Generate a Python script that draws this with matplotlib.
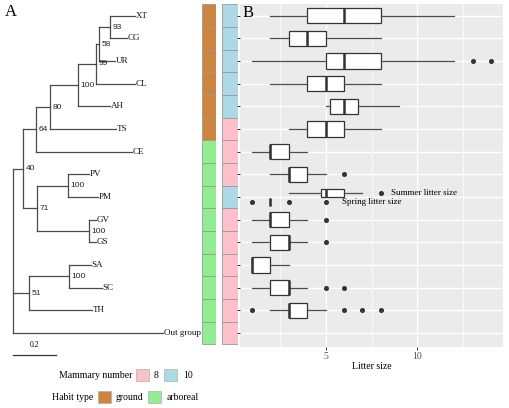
import numpy as np
import matplotlib
matplotlib.use("Agg")
import matplotlib.pyplot as plt
from matplotlib.patches import Rectangle
from matplotlib.collections import LineCollection

# ---------------- data ----------------
newick = ("((((((((XT:0.118,CG:0.079)93:0.052,UR:0.075)58:0.014,CL:0.184)99:0.085,"
          "AH:0.151)100:0.132,TS:0.311)80:0.066,CE:0.453)64:0.061,"
          "((PV:0.099,PM:0.142)100:0.148,(GV:0.033,GS:0.033)100:0.245)71:0.066)40:0.045,"
          "((SA:0.104,SC:0.156)100:0.189,TH:0.297)51:0.073,Out_group:0.705);")

species = ["XT", "CG", "UR", "CL", "AH", "TS", "CE", "PV", "PM", "GV", "GS",
           "SA", "SC", "TH", "Out group"]
habit = ["ground"] * 6 + ["arboreal"] * 9
mammary = [10, 10, 10, 10, 10, 8, 8, 8, 10, 8, 8, 8, 8, 8, 8]

# litter size box statistics (whisker low, Q1, median, Q3, whisker high, outliers)
box_species = ["XT", "CG", "UR", "CL", "AH", "TS", "CE", "PV", "PM", "GV", "GS", "SA", "SC", "TH"]
whislo = [2, 2, 1, 2, 5, 3, 1, 2, 3, 1, 1, 1, 1, 2]
q1 = [4, 3, 5, 4, 5.25, 4, 2, 3, 4.75, 2, 2, 1, 2, 3]
med = [6, 4, 6, 5, 6, 5, 2, 3, 5, 2, 3, 1, 3, 3]
q3 = [8, 5, 8, 6, 6.75, 6, 3, 4, 6, 3, 3, 2, 3, 4]
whishi = [12, 8, 12, 8, 9, 8, 4, 5, 7, 4, 4, 3, 4, 5]
fliers = [[], [], [13, 14], [], [], [], [], [6], [8], [5], [5], [], [5, 6], [1, 6, 7, 8]]
# spring litter size of PM
spring_stats = dict(whislo=2, q1=2, med=2, q3=2, whishi=2, fliers=[1, 3, 5])

habit_colors = {"ground": "#CD853F", "arboreal": "#90EE90"}
mammary_colors = {8: "#FFC0CB", 10: "#ADD8E6"}

# ---------------- helpers ----------------
W, H = 510, 408
fig = plt.figure(figsize=(W / 100, H / 100), dpi=100)
SERIF = "Liberation Serif"
SANS = "Liberation Sans"


def px_axes(x0, y0, x1, y1):
    return fig.add_axes([x0 / W, 1 - y1 / H, (x1 - x0) / W, (y1 - y0) / H])


ROW0, ROWH = 15.7, 22.67
TOP, BOT = 4, 346.5
YLIM = (1 + (BOT - ROW0) / ROWH, 1 + (TOP - ROW0) / ROWH)


def parse(s):
    pos = 0

    def node():
        nonlocal pos
        children = []
        if s[pos] == "(":
            pos += 1
            while True:
                children.append(node())
                if s[pos] == ",":
                    pos += 1
                    continue
                if s[pos] == ")":
                    pos += 1
                    break
        start = pos
        while pos < len(s) and s[pos] not in ":,);":
            pos += 1
        label = s[start:pos]
        bl = 0.0
        if pos < len(s) and s[pos] == ":":
            pos += 1
            start = pos
            while s[pos] not in ",);":
                pos += 1
            bl = float(s[start:pos])
        return {"label": label.replace("_", " "), "bl": bl, "children": children}

    return node()


root = parse(newick)
counter = [0]


def layout(n, x0):
    n["x"] = x0 + n["bl"]
    if not n["children"]:
        counter[0] += 1
        n["y"] = counter[0]
    else:
        for c in n["children"]:
            layout(c, n["x"])
        n["y"] = np.mean([c["y"] for c in n["children"]])


root["bl"] = 0.0
layout(root, 0.0)

# ---------------- tree panel ----------------
axt = px_axes(0, TOP, 201, BOT)
PXU = 212.0
axt.set_xlim(-13.3 / PXU, (201 - 13.3) / PXU)
axt.set_ylim(*YLIM)
axt.axis("off")
segs = []


def draw(n):
    if n["children"]:
        ys = [c["y"] for c in n["children"]]
        segs.append([(n["x"], min(ys)), (n["x"], max(ys))])
        for c in n["children"]:
            segs.append([(n["x"], c["y"]), (c["x"], c["y"])])
            draw(c)
        if n is not root and n["label"]:
            axt.text(n["x"] + 0.012, n["y"], n["label"], family=SANS, fontsize=6,
                     va="center", ha="left", color="#222222")
    else:
        axt.text(n["x"] + 0.004, n["y"], n["label"], family=SERIF, fontsize=6.5,
                 va="center", ha="left", color="#111111", clip_on=False)


draw(root)
axt.add_collection(LineCollection(segs, colors="#4a4a4a", linewidths=0.9,
                                  capstyle="projecting"))
# scale bar
sb_y = 1 + (355 - ROW0) / ROWH
axt.plot([0, 0.2], [sb_y, sb_y], color="#333333", lw=0.9, clip_on=False)
axt.text(0.1, sb_y - 0.28, "0.2", family=SERIF, fontsize=5.5, ha="center", va="bottom",
         clip_on=False)

# ---------------- colour strips ----------------
rows = np.arange(1, len(species) + 1)
axh = px_axes(202, TOP, 216, BOT)
axh.barh(rows, 1, height=1, left=0, color=[habit_colors[h] for h in habit],
         edgecolor="#9a9a9a", linewidth=0.6)
axm = px_axes(222, TOP, 238, BOT)
axm.barh(rows, 1, height=1, left=0, color=[mammary_colors[m] for m in mammary],
         edgecolor="#9a9a9a", linewidth=0.6)
for a in (axh, axm):
    a.set_xlim(0, 1)
    a.set_ylim(*YLIM)
    a.axis("off")

# ---------------- box plot panel ----------------
axb = px_axes(240, TOP, 503, BOT)
axb.set_facecolor("#EBEBEB")
for sp in axb.spines.values():
    sp.set_visible(False)
axb.set_xlim(0.35, 14.65)
axb.set_ylim(*YLIM)
axb.set_xticks([5, 10])
axb.set_xticks([2.5, 7.5, 12.5], minor=True)
axb.set_xticklabels(["5", "10"], family=SERIF, fontsize=7, color="#4D4D4D")
axb.set_yticks(rows)
axb.set_yticklabels([])
axb.tick_params(axis="both", which="major", length=2.5, width=0.7, color="#333333", pad=1.5)
axb.tick_params(axis="x", which="minor", length=0)
axb.grid(True, which="major", color="white", lw=1.0)
axb.grid(True, which="minor", axis="x", color="white", lw=0.5)
axb.set_axisbelow(True)
axb.set_xlabel("Litter size", family=SERIF, fontsize=7, labelpad=1)

stats, pos, widths = [], [], []
for i, sname in enumerate(box_species):
    r = species.index(sname) + 1
    st = dict(whislo=whislo[i], q1=q1[i], med=med[i], q3=q3[i], whishi=whishi[i],
              fliers=fliers[i])
    if sname == "PM":
        stats.append(st); pos.append(r - 0.18); widths.append(0.35)
        stats.append(dict(spring_stats)); pos.append(r + 0.21); widths.append(0.35)
    else:
        stats.append(st); pos.append(r); widths.append(0.68)

lc = "#333333"
axb.bxp(stats, positions=pos, widths=widths, vert=False, patch_artist=True,
        showcaps=False,
        boxprops=dict(facecolor="white", edgecolor=lc, linewidth=0.9),
        whiskerprops=dict(color="#4d4d4d", linewidth=0.9),
        medianprops=dict(color=lc, linewidth=1.8),
        flierprops=dict(marker="o", markersize=2.6, markerfacecolor=lc,
                        markeredgecolor=lc, linestyle="none"),
        manage_ticks=False, zorder=3)

pm_row = species.index("PM") + 1
axb.text(8.55, pm_row - 0.18, "Summer litter size", family=SERIF, fontsize=6.5,
         va="center", ha="left")
axb.text(5.9, pm_row + 0.23, "Spring litter size", family=SERIF, fontsize=6.5,
         va="center", ha="left")

# ---------------- overlay: panel letters & legend ----------------
ov = fig.add_axes([0, 0, 1, 1])
ov.set_xlim(0, W)
ov.set_ylim(H, 0)
ov.axis("off")
ov.patch.set_alpha(0)
ov.text(5, 12.5, "A", family=SERIF, fontsize=12, va="center", ha="left")
ov.text(243, 13, "B", family=SERIF, fontsize=12, va="center", ha="left")


def key(x, y, c):
    ov.add_patch(Rectangle((x, y - 6), 13, 12, facecolor=c, edgecolor="#b0b0b0", lw=0.5))


ly1, ly2 = 375, 397
ov.text(132, ly1, "Mammary number", family=SERIF, fontsize=7, va="center", ha="right")
key(136, ly1, mammary_colors[8])
ov.text(154, ly1, "8", family=SERIF, fontsize=7, va="center", ha="left")
key(164, ly1, mammary_colors[10])
ov.text(183, ly1, "10", family=SERIF, fontsize=7, va="center", ha="left")
ov.text(93, ly2, "Habit type", family=SERIF, fontsize=7, va="center", ha="right")
key(98, ly2, habit_colors["ground"])
ov.text(116, ly2, "ground", family=SERIF, fontsize=7, va="center", ha="left")
key(148, ly2, habit_colors["arboreal"])
ov.text(167, ly2, "arboreal", family=SERIF, fontsize=7, va="center", ha="left")

fig.savefig("out.png", dpi=100)
